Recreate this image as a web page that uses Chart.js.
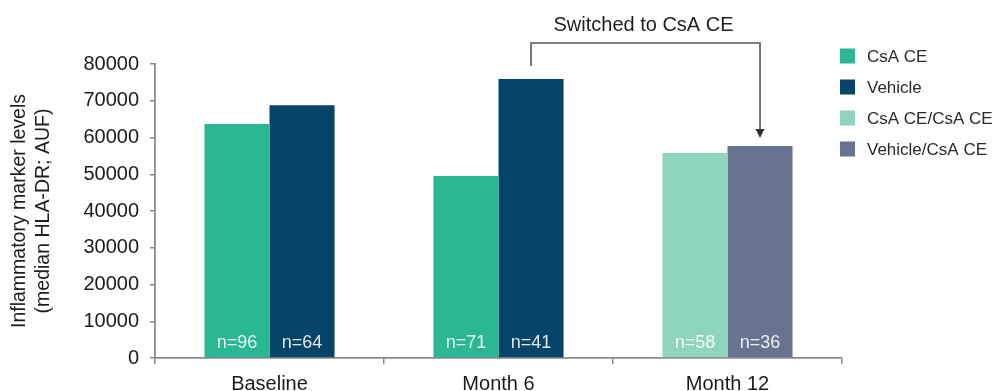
<!DOCTYPE html>
<html>
<head>
<meta charset="utf-8">
<script src="https://cdn.jsdelivr.net/npm/chart.js@4.4.1/dist/chart.umd.min.js"></script>
<style>
  html, body { margin: 0; padding: 0; background: #fff; }
  #wrap { width: 997px; height: 391px; position: relative; }
</style>
</head>
<body>
<div id="wrap"><canvas id="grafico"></canvas></div>
<script>
// ==============================
// DADOS
// ==============================
const categorias = ["Baseline", "Month 6", "Month 12"];
const nomesSeries = ["CsA CE", "Vehicle", "CsA CE/CsA CE", "Vehicle/CsA CE"];
const valCsaCE = [63700, 49500, null];
const valVehicle = [68800, 75900, null];
const valCsaCsa = [null, null, 55800];
const valVehicleCsa = [null, null, 57700];
const nCsaCE = ["n=96", "n=71", null];
const nVehicle = ["n=64", "n=41", null];
const nCsaCsa = [null, null, "n=58"];
const nVehicleCsa = [null, null, "n=36"];
const ticksY = [0, 10000, 20000, 30000, 40000, 50000, 60000, 70000, 80000];
const tituloY = ["Inflammatory marker levels", "(median HLA-DR; AUF)"];
const textoTroca = "Switched to CsA CE";

// ==============================
// ESTILO
// ==============================
const FONTE = '"Liberation Sans", Arial, sans-serif';
const cores = ["#2bb794", "#074469", "#8fd4bd", "#66748f"];
const corEixo = "#8a8a8a";
const valores = [valCsaCE, valVehicle, valCsaCsa, valVehicleCsa];
const rotulosN = [nCsaCE, nVehicle, nCsaCsa, nVehicleCsa];

// ==============================
// PLUGIN - TEXTOS EXTRAS
// ==============================
const extras = {
  id: "extras",
  afterDraw(chart) {
    const ctx = chart.ctx;
    const area = chart.chartArea;
    ctx.save();

    // n= dentro das barras
    ctx.font = "18px " + FONTE;
    ctx.fillStyle = "rgba(255,255,255,0.88)";
    ctx.textAlign = "center";
    ctx.textBaseline = "middle";
    rotulosN.forEach((lista, i) => {
      const meta = chart.getDatasetMeta(i);
      lista.forEach((txt, j) => {
        if (!txt) return;
        const bar = meta.data[j];
        ctx.fillText(txt, bar.x, bar.base - 14);
      });
    });

    // título do eixo Y
    ctx.fillStyle = "#1e1e1e";
    ctx.font = "19.5px " + FONTE;
    const cy = (area.top + area.bottom) / 2;
    tituloY.forEach((linha, k) => {
      ctx.save();
      ctx.translate(20 + k * 24, cy);
      ctx.rotate(-Math.PI / 2);
      ctx.fillText(linha, 0, 0);
      ctx.restore();
    });

    // legenda
    ctx.textAlign = "left";
    ctx.font = "17px " + FONTE;
    nomesSeries.forEach((nome, i) => {
      const y = 56 + i * 31;
      ctx.fillStyle = cores[i];
      ctx.fillRect(840, y - 7.5, 15, 15);
      ctx.fillStyle = "#2a2a2a";
      ctx.fillText(nome, 867, y + 1);
    });

    // colchete "Switched to CsA CE"
    const barEsq = chart.getDatasetMeta(1).data[1];
    const barDir = chart.getDatasetMeta(3).data[2];
    const yTopo = barEsq.y - 36;
    ctx.strokeStyle = "#555";
    ctx.lineWidth = 1.6;
    ctx.beginPath();
    ctx.moveTo(barEsq.x, barEsq.y - 13);
    ctx.lineTo(barEsq.x, yTopo);
    ctx.lineTo(barDir.x, yTopo);
    ctx.lineTo(barDir.x, barDir.y - 15);
    ctx.stroke();
    ctx.fillStyle = "#333";
    ctx.beginPath();
    ctx.moveTo(barDir.x - 4.5, barDir.y - 17);
    ctx.lineTo(barDir.x + 4.5, barDir.y - 17);
    ctx.lineTo(barDir.x, barDir.y - 8);
    ctx.closePath();
    ctx.fill();

    ctx.textAlign = "center";
    ctx.font = "20px " + FONTE;
    ctx.fillStyle = "#1e1e1e";
    ctx.fillText(textoTroca, (barEsq.x + barDir.x) / 2 - 2, yTopo - 18);

    ctx.restore();
  }
};

// ==============================
// GRÁFICO
// ==============================
const chart = new Chart(document.getElementById("grafico"), {
  type: "bar",
  data: {
    labels: categorias,
    datasets: nomesSeries.map((nome, i) => ({
      label: nome,
      data: valores[i],
      backgroundColor: cores[i],
      borderWidth: 0,
      categoryPercentage: 0.568,
      barPercentage: 1.0,
      skipNull: true
    }))
  },
  options: {
    responsive: true,
    maintainAspectRatio: false,
    animation: false,
    devicePixelRatio: 1,
    layout: { padding: { left: 0, right: 155, top: 64, bottom: 0 } },
    plugins: {
      legend: { display: false },
      tooltip: { enabled: false }
    },
    scales: {
      x: {
        offset: true,
        grid: { offset: true, drawOnChartArea: false, tickLength: 6, color: corEixo, lineWidth: 1.5 },
        border: { color: corEixo, width: 1.8 },
        ticks: { color: "#1a1a1a", font: { family: FONTE, size: 20 }, padding: 8, maxRotation: 0 },
        afterFit(s) { s.height = 33; s.paddingLeft = 0; s.paddingRight = 0; }
      },
      y: {
        min: 0,
        max: 80000,
        afterBuildTicks(s) { s.ticks = ticksY.map(v => ({ value: v })); },
        grid: { drawOnChartArea: false, tickLength: 5, color: corEixo, lineWidth: 1.5 },
        border: { color: corEixo, width: 1.8 },
        ticks: { color: "#1a1a1a", font: { family: FONTE, size: 20 }, padding: 11, callback: v => String(v) },
        afterFit(s) { s.width = 155; s.paddingTop = 0; s.paddingBottom = 0; }
      }
    }
  },
  plugins: [extras]
});
</script>
</body>
</html>
